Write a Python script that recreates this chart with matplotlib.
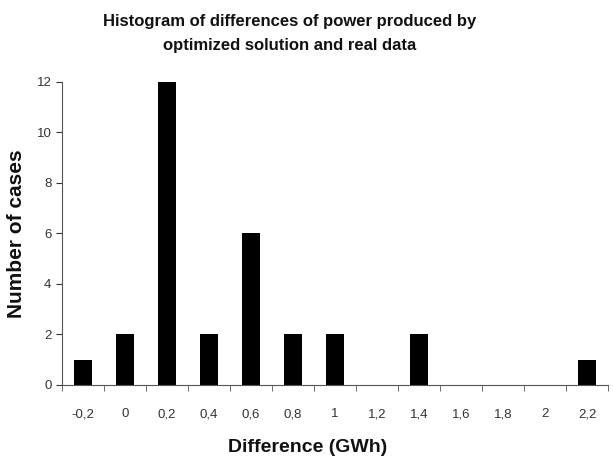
import numpy as np
import matplotlib.pyplot as plt

# bin labels and counts
bins = ['-0,2', '0', '0,2', '0,4', '0,6', '0,8', '1', '1,2', '1,4', '1,6', '1,8', '2', '2,2']
counts = [1, 2, 12, 2, 6, 2, 2, 0, 2, 0, 0, 0, 1]

plt.rcParams['font.family'] = ['Liberation Sans', 'DejaVu Sans']

fig = plt.figure(figsize=(6.13, 4.71), dpi=100)
ax = fig.add_axes([0.101, 0.183, 0.891, 0.643])

x = np.arange(len(bins))
ax.bar(x, counts, width=0.42, color='black')

ax.set_xlim(-0.5, len(bins) - 0.5)
ax.set_ylim(0, 12)
ax.set_yticks(range(0, 13, 2))
ax.set_xticks(x)
ax.set_xticklabels(bins)
ax.set_xticks(np.arange(-0.5, len(bins)), minor=True)

ax.tick_params(axis='x', which='major', length=0, pad=17, labelsize=9.5, colors='#333333')
ax.tick_params(axis='x', which='minor', length=4, direction='out', color='#555555')
ax.tick_params(axis='y', length=4, direction='out', labelsize=9.5, colors='#333333')

for s in ['top', 'right']:
    ax.spines[s].set_visible(False)
for s in ['left', 'bottom']:
    ax.spines[s].set_color('#555555')

ax.set_xlabel('Difference (GWh)', fontsize=14, fontweight='bold', color='#111111')
ax.xaxis.set_label_coords(0.45, -0.18)
ax.set_ylabel('Number of cases', fontsize=15, fontweight='bold', labelpad=8, color='#111111')
fig.suptitle('Histogram of differences of power produced by\noptimized solution and real data',
             fontsize=12, fontweight='bold', x=0.473, y=0.97, linespacing=1.75, color='#111111')

fig.savefig('out.png', dpi=100)
